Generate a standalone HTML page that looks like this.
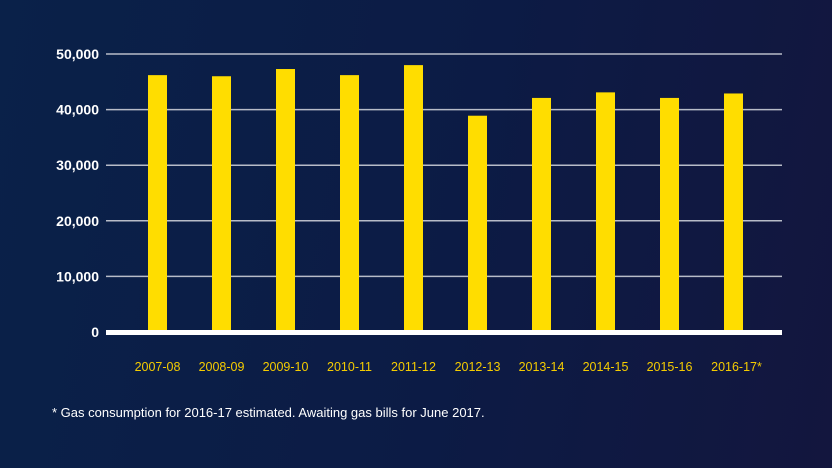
<!DOCTYPE html>
<html><head><meta charset="utf-8"><style>
html,body{margin:0;padding:0;}
body{width:832px;height:468px;overflow:hidden;background:linear-gradient(100deg,#0a2149 0%,#0c1b45 55%,#13163e 100%);font-family:"Liberation Sans",sans-serif;}
svg{display:block}
</style></head><body>
<svg width="832" height="468" id="chart">
<g id="grid"></g><g id="bars"></g><g id="labels"></g>
<text x="52" y="417" fill="#ffffff" font-size="13" font-family="Liberation Sans, sans-serif">* Gas consumption for 2016-17 estimated. Awaiting gas bills for June 2017.</text>
</svg>
<script>
const categories=["2007-08","2008-09","2009-10","2010-11","2011-12","2012-13","2013-14","2014-15","2015-16","2016-17*"];
const values=[46200,46000,47300,46200,48000,38900,42100,43100,42100,42900];
const ticks=[0,10000,20000,30000,40000,50000];
const tickLabels=["0","10,000","20,000","30,000","40,000","50,000"];
const NS="http://www.w3.org/2000/svg";
const x0=106,x1=782,y0=332,yTop=54,maxV=50000;
const y=v=>y0-(v/maxV)*(y0-yTop);
const xc=i=>157.5+i*64;
function mk(t,a,p){const e=document.createElementNS(NS,t);for(const k in a)e.setAttribute(k,a[k]);p.appendChild(e);return e;}
const G=document.getElementById('grid'),B=document.getElementById('bars'),L=document.getElementById('labels');
ticks.forEach((t,i)=>{
  if(t>0){const l=mk('line',{x1:x0,x2:x1,y1:y(t),y2:y(t),stroke:'#b8bcc8','stroke-width':1.5},G);
  
  }
  const tx=mk('text',{x:99,y:y(t)+5,fill:'#fff','font-size':14,'font-weight':'bold','text-anchor':'end'},G);
  tx.textContent=tickLabels[i];
  
  
});
categories.forEach((c,i)=>{
  const r=mk('rect',{x:xc(i)-9.5,y:y(values[i]),width:19,height:y0-y(values[i]),fill:'#ffdd00'},B);
  
  
  const t=mk('text',{x:xc(i)+(c.endsWith('*')?3:0),y:371,fill:'#f5cc00','font-size':12.5,'text-anchor':'middle'},L);
  t.textContent=c;
  
  
});
const ax=mk('rect',{x:x0,y:y0-2,width:x1-x0,height:5,fill:'#ffffff'},G.parentNode);


</script>
</body></html>
